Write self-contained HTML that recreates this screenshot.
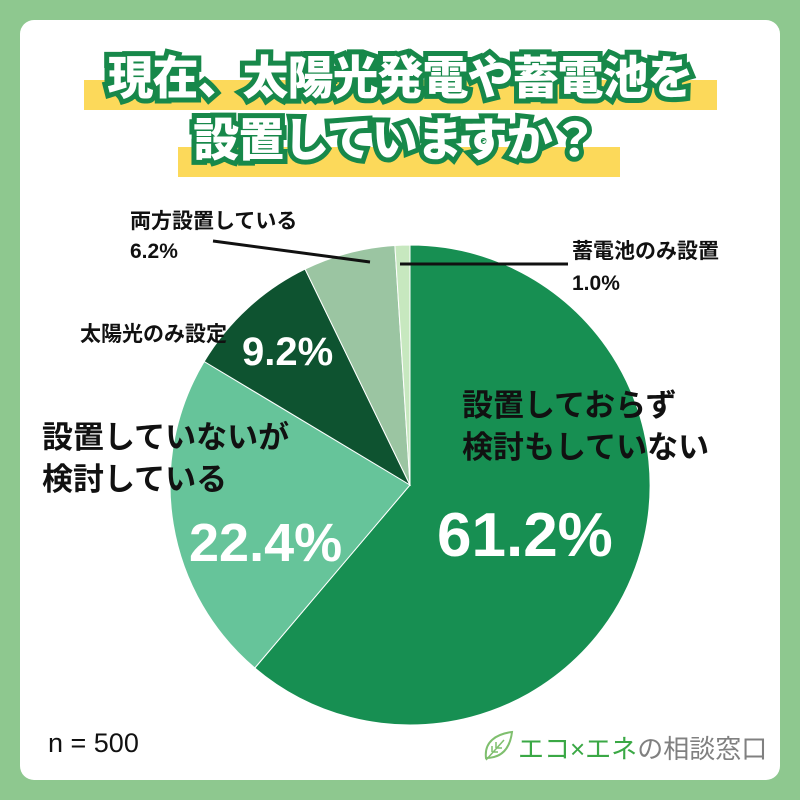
<!DOCTYPE html>
<html><head><meta charset="utf-8"><style>
html,body{margin:0;padding:0;}
body{width:800px;height:800px;background:#8ec88f;position:relative;overflow:hidden;font-family:"Liberation Sans","Noto Sans CJK JP",sans-serif;}
.card{position:absolute;left:20px;top:20px;width:760px;height:760px;background:#fff;border-radius:14px;}
.t{position:absolute;font-weight:900;font-size:46px;color:#fff;white-space:nowrap;-webkit-text-stroke:10px #17884a;paint-order:stroke fill;}
.band{position:absolute;background:#fcd95a;}
.lab{position:absolute;font-weight:bold;color:#111;white-space:nowrap;}
</style></head><body>
<div class="card"></div>
<div class="band" style="left:84px;top:80px;width:633px;height:30px"></div>
<div class="band" style="left:178px;top:147px;width:442px;height:30px"></div>
<div class="t" style="left:0;width:800px;text-align:center;top:48px;line-height:60px;letter-spacing:-1px">現在、太陽光発電や蓄電池を</div>
<div class="t" style="left:0;width:790px;text-align:center;top:110px;line-height:60px;letter-spacing:-1px">設置していますか？</div>
<svg width="800" height="800" style="position:absolute;left:0;top:0">
<g stroke="#fff" stroke-width="1">
<path d="M410,485 L410,245 A240,240 0 1 1 254.8,668 Z" fill="#178f52"/>
<path d="M410,485 L254.8,668 A240,240 0 0 1 204.2,361.5 Z" fill="#66c49a"/>
<path d="M410,485 L204.2,361.5 A240,240 0 0 1 305.1,269.1 Z" fill="#0e5330"/>
<path d="M410,485 L305.1,269.1 A240,240 0 0 1 394.9,245.5 Z" fill="#9bc5a2"/>
<path d="M410,485 L394.9,245.5 A240,240 0 0 1 410,245 Z" fill="#c7e8bf"/>
</g>
<line x1="213" y1="241" x2="370" y2="262" stroke="#111" stroke-width="3"/>
<line x1="400" y1="264" x2="568" y2="264" stroke="#111" stroke-width="3"/>
</svg>
<div class="lab" style="left:130px;top:207px;font-size:21px;line-height:30px">両方設置している<br>6.2%</div>
<div class="lab" style="left:572px;top:236px;font-size:21px;line-height:32px">蓄電池のみ設置<br>1.0%</div>
<div class="lab" style="left:80px;top:318px;font-size:21px">太陽光のみ設定</div>
<div class="lab" style="left:242px;top:330px;font-size:40px;color:#fff">9.2%</div>
<div class="lab" style="left:462px;top:385px;font-size:31px;line-height:42px">設置しておらず<br>検討もしていない</div>
<div class="lab" style="left:42px;top:417px;font-size:31px;line-height:42px">設置していないが<br>検討している</div>
<div class="lab" style="left:437px;top:500px;font-size:62px;color:#fff">61.2%</div>
<div class="lab" style="left:189px;top:512px;font-size:54px;color:#fff">22.4%</div>
<div class="lab" style="left:48px;top:728px;font-size:27px;font-weight:normal">n = 500</div>
<svg width="36" height="36" style="position:absolute;left:480px;top:728px" viewBox="0 0 36 36">
<path d="M6,30 C4,14 16,6 32,4 C30,20 22,30 6,30 Z" fill="none" stroke="#7fbf6e" stroke-width="2"/>
<path d="M6,32 L24,12 M12,24 L12,18 M16,20 L16,14 M12,24 L18,24 M16,20 L22,20" stroke="#7fbf6e" stroke-width="1.5"/>
</svg>
<div class="lab" style="left:518px;top:729px;font-size:26px;font-weight:normal;color:#3aa845">エコ×エネ<span style="color:#808080">の相談窓口</span></div>
</body></html>
